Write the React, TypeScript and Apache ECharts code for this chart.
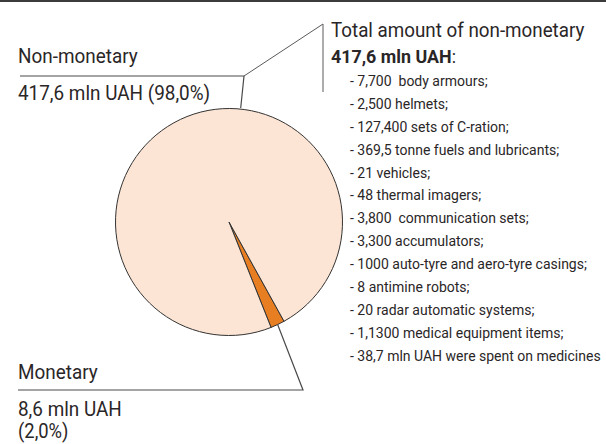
import { useEffect, useRef } from 'react';
import * as echarts from 'echarts';

const categories = ['Monetary', 'Non-monetary'];
const values = [8.6, 417.6];
const valueLabels = ['8,6 mln UAH', '417,6 mln UAH'];
const shareLabels = ['(2,0%)', '(98,0%)'];
const listTitle = 'Total amount of non-monetary';
const listTotal = '417,6 mln UAH';
const listItems = [
  '- 7,700  body armours;',
  '- 2,500 helmets;',
  '- 127,400 sets of C-ration;',
  '- 369,5 tonne fuels and lubricants;',
  '- 21 vehicles;',
  '- 48 thermal imagers;',
  '- 3,800  communication sets;',
  '- 3,300 accumulators;',
  '- 1000 auto-tyre and aero-tyre casings;',
  '- 8 antimine robots;',
  '- 20 radar automatic systems;',
  '- 1,1300 medical equipment items;',
  '- 38,7 mln UAH were spent on medicines',
];

const FONT = 'Roboto, "Liberation Sans", sans-serif';
const TEXT = '#2a2627';
const LINE = '#4a4a4a';

export default function App() {
  const ref = useRef<HTMLDivElement>(null);
  useEffect(() => {
    document.body.style.margin = '0';
    const chart = echarts.init(ref.current!, null, { renderer: 'svg' });
    const cx = 229;
    const cy = 222;
    const r = 113.5;
    const startAngle = 299;
    const total = values.reduce((a, b) => a + b, 0);
    const midDeg = startAngle - (values[0] / total) * 360 / 2;
    const midRad = (midDeg * Math.PI) / 180;
    const mx = cx + r * Math.cos(midRad);
    const my = cy - r * Math.sin(midRad);

    const txt = (x: number, y: number, text: string, size: number, sx = 1, extra: any = {}) => ({
      type: 'text',
      x,
      y,
      scaleX: sx,
      silent: true,
      style: {
        text,
        fontSize: size,
        fontFamily: FONT,
        fill: TEXT,
        align: 'left',
        verticalAlign: 'middle',
        ...extra,
      },
    });

    const graphic: any[] = [
      { type: 'rect', shape: { x: 0, y: 0, width: 606, height: 2 }, style: { fill: '#3c3c3c' }, silent: true },
      {
        type: 'polyline',
        shape: { points: [[240.7, 108], [244, 76], [20, 76]] },
        style: { stroke: LINE, lineWidth: 1.2, fill: 'none' },
        silent: true,
      },
      {
        type: 'polyline',
        shape: { points: [[244, 76], [323, 24], [323, 92]] },
        style: { stroke: '#5a5a5a', lineWidth: 1, fill: 'none' },
        silent: true,
      },
      {
        type: 'polyline',
        shape: { points: [[mx, my], [303, 390], [18, 390]] },
        style: { stroke: LINE, lineWidth: 1.2, fill: 'none' },
        silent: true,
      },
      txt(18, 56, categories[1], 21, 0.9),
      txt(18, 92.5, `${valueLabels[1]} ${shareLabels[1]}`, 21, 0.9),
      txt(18, 372, categories[0], 21, 0.9),
      txt(18, 409, valueLabels[0], 21, 0.9),
      txt(18, 431, shareLabels[0], 20, 0.92),
      txt(331, 30, listTitle, 20, 0.94),
      {
        type: 'text',
        x: 331,
        y: 56,
        scaleX: 0.94,
        silent: true,
        style: {
          text: `{b|${listTotal}}{n|:}`,
          align: 'left',
          verticalAlign: 'middle',
          rich: {
            b: { fontSize: 19, fontWeight: 'bold', fontFamily: FONT, fill: TEXT },
            n: { fontSize: 19, fontFamily: FONT, fill: TEXT },
          },
        },
      },
      ...listItems.map((t, i) => txt(350, 80.7 + i * 22.95, t, 14)),
    ];

    chart.setOption({
      animation: false,
      backgroundColor: '#ffffff',
      series: [
        {
          type: 'pie',
          center: [cx, cy],
          radius: [0, r],
          startAngle,
          clockwise: true,
          silent: true,
          label: { show: false },
          labelLine: { show: false },
          itemStyle: { borderColor: '#333333', borderWidth: 1 },
          data: categories.map((name, i) => ({
            name,
            value: values[i],
            itemStyle: { color: i === 0 ? '#e87e22' : '#fce5d4' },
          })),
        },
      ],
      graphic,
    });
    return () => chart.dispose();
  }, []);
  return <div ref={ref} style={{ width: 606, height: 444 }} />;
}
